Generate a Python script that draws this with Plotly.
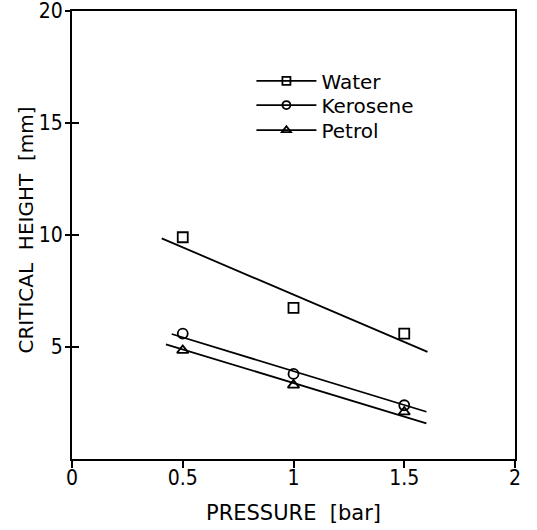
import plotly.graph_objects as go

# Measured data points
pressure = [0.5, 1.0, 1.5]
water = [9.9, 6.75, 5.6]
kerosene = [5.6, 3.8, 2.4]
petrol = [4.85, 3.3, 2.1]

# Fitted lines (end points)
water_fit_x = [0.405, 1.605]
water_fit_y = [9.85, 4.78]
kerosene_fit_x = [0.45, 1.60]
kerosene_fit_y = [5.58, 2.11]
petrol_fit_x = [0.424, 1.60]
petrol_fit_y = [5.12, 1.59]

x_ticks = [0, 0.5, 1, 1.5, 2]
x_tick_labels = ["0", "0.5", "1", "1.5", "2"]
y_ticks = [5, 10, 15, 20]
y_tick_labels = ["5", "10", "15", "20"]

names = ["Water", "Kerosene", "Petrol"]
symbols = ["square-open", "circle-open", "triangle-up-open"]
legend_ids = ["legend", "legend2", "legend3"]
legend_y = [0.844, 0.790, 0.734]

FONT = "DejaVu Sans, sans-serif"
TICKFONT = "DejaVu Sans Condensed, DejaVu Sans, sans-serif"
BLACK = "#000000"

fig = go.Figure()

series = [
    (water, water_fit_x, water_fit_y),
    (kerosene, kerosene_fit_x, kerosene_fit_y),
    (petrol, petrol_fit_x, petrol_fit_y),
]

for (vals, fx, fy), name, sym, lid in zip(series, names, symbols, legend_ids):
    fig.add_trace(go.Scatter(
        x=fx, y=fy, mode="lines",
        line=dict(color=BLACK, width=1.8),
        showlegend=False, hoverinfo="skip",
    ))
    fig.add_trace(go.Scatter(
        x=pressure, y=vals, mode="markers",
        marker=dict(symbol=sym, size=10, color=BLACK, line=dict(width=1.8, color=BLACK)),
        showlegend=False,
    ))
    # legend entry
    fig.add_trace(go.Scatter(
        x=[None], y=[None], mode="lines+markers", name=name, legend=lid,
        line=dict(color=BLACK, width=1.8),
        marker=dict(symbol=sym, size=8, color=BLACK, line=dict(width=1.8, color=BLACK)),
    ))

# invisible trace on an overlaid y axis that supplies the inner half of the y ticks
fig.add_trace(go.Scatter(x=[None], y=[None], yaxis="y2", showlegend=False, hoverinfo="skip"))

legend_common = dict(
    xanchor="left", yanchor="middle",
    bgcolor="rgba(0,0,0,0)", borderwidth=0,
    font=dict(size=20, family=FONT, color=BLACK),
    itemwidth=60,
)

fig.update_layout(
    width=537, height=530,
    margin=dict(l=72, r=22, t=11, b=71),
    paper_bgcolor="white", plot_bgcolor="white",
    font=dict(family=FONT, color=BLACK, size=19),
    legend=dict(x=0.405, y=legend_y[0], **legend_common),
    legend2=dict(x=0.405, y=legend_y[1], **legend_common),
    legend3=dict(x=0.405, y=legend_y[2], **legend_common),
    xaxis=dict(
        range=[0, 2], tickvals=x_ticks, ticktext=x_tick_labels,
        showgrid=False, zeroline=False,
        showline=True, linecolor=BLACK, linewidth=2, mirror=True,
        ticks="outside", ticklen=7, tickwidth=2, tickcolor=BLACK,
        tickfont=dict(size=21, family=TICKFONT), ticklabelstandoff=-8,
        ticklabeloverflow="allow",
        title=dict(text="PRESSURE\u00a0\u00a0[bar]", font=dict(size=21), standoff=16),
        automargin=False,
    ),
    yaxis=dict(
        range=[0, 20], tickvals=y_ticks, ticktext=y_tick_labels,
        showgrid=False, zeroline=False,
        showline=True, linecolor=BLACK, linewidth=2, mirror=True,
        ticks="outside", ticklen=5, tickwidth=2, tickcolor=BLACK,
        tickfont=dict(size=21, family=TICKFONT), ticklabelstandoff=-2,
        ticklabeloverflow="allow",
        automargin=False,
    ),
    yaxis2=dict(
        range=[0, 20], tickvals=y_ticks, overlaying="y", side="left",
        showgrid=False, zeroline=False, showline=False, showticklabels=False,
        ticks="inside", ticklen=7, tickwidth=2, tickcolor=BLACK,
        automargin=False,
    ),
    annotations=[dict(
        text="CRITICAL\u00a0\u00a0HEIGHT\u00a0\u00a0[mm]", textangle=-90,
        xref="paper", yref="paper", x=0, y=0.51,
        xanchor="center", yanchor="middle", xshift=-46,
        showarrow=False, font=dict(size=20, family=FONT, color=BLACK),
    )],
)

fig.write_html("out.html")
